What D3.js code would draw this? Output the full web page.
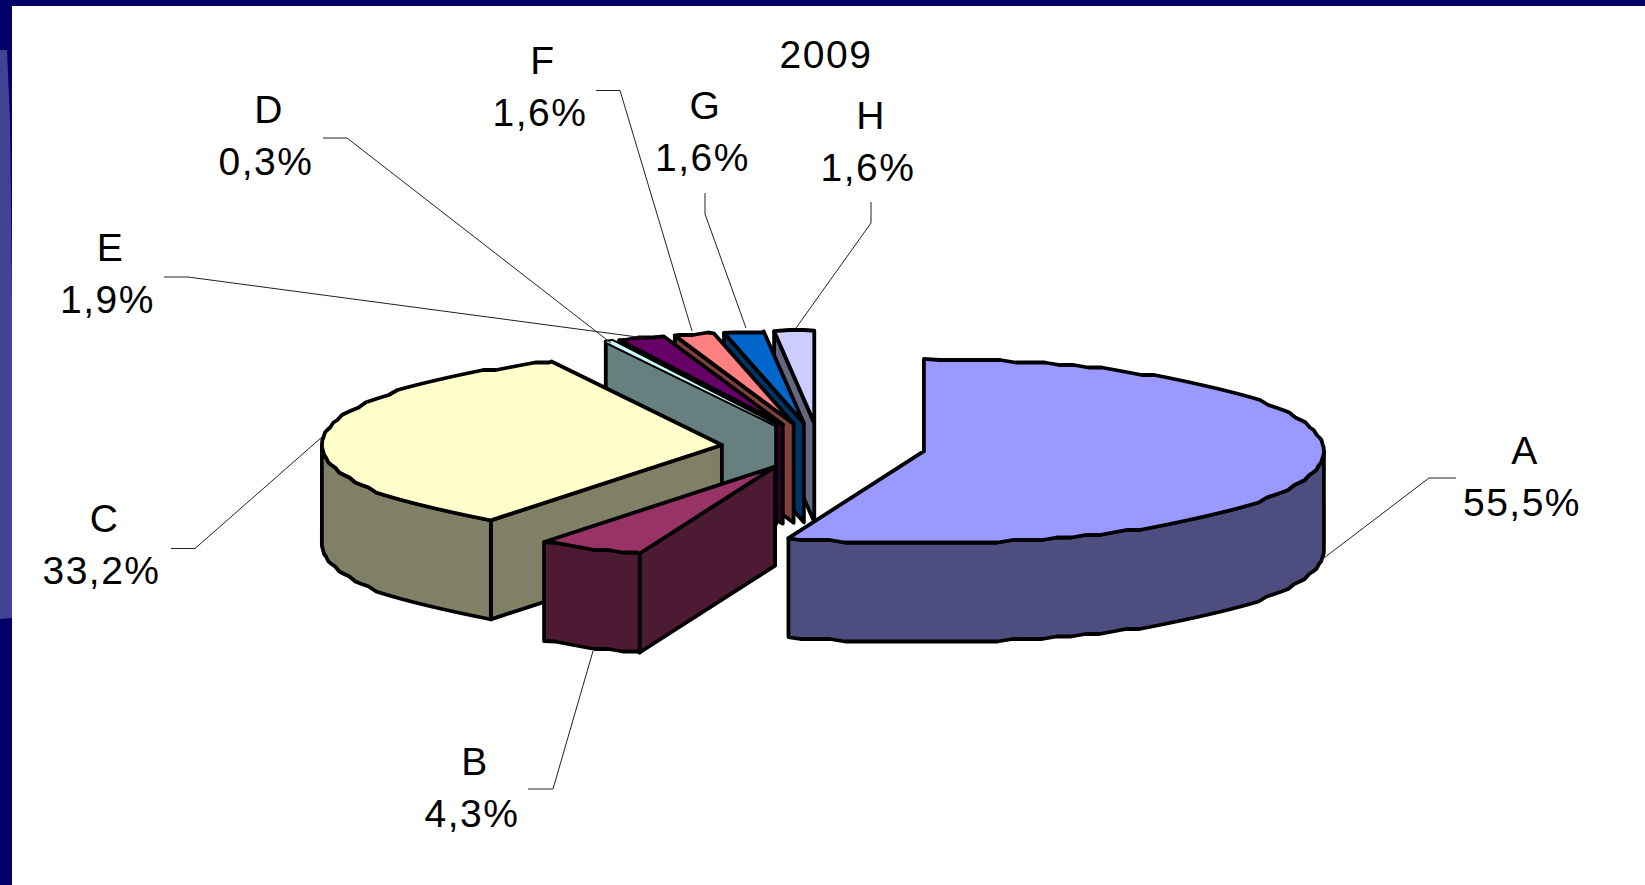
<!DOCTYPE html>
<html><head><meta charset="utf-8">
<script src="https://d3js.org/d3.v7.min.js"></script>
<style>html,body{margin:0;padding:0;background:#fff;overflow:hidden}svg{display:block}
text{font-family:"Liberation Sans",Arial,sans-serif;fill:#000}</style>
</head><body>
<script>
const categories=["A","B","C","D","E","F","G","H"];
const values=[55.5,4.3,33.2,0.3,1.9,1.6,1.6,1.6];
const valueLabels=["55,5%","4,3%","33,2%","0,3%","1,9%","1,6%","1,6%","1,6%"];
const topColors=["#9999FF","#993366","#FFFFCC","#CCFFFF","#660066","#FF8080","#0066CC","#CCCCFF"];
const wallColors=["#4D4D80","#4D1A33","#808066","#668080","#330033","#804040","#003366","#666680"];
const title="2009";
// layout only: explosion per slice, label anchors and leader elbows
const explodeBy=[0.265,0.24,0.245,0.26,0.26,0.26,0.26,0.26];
const labelLayout=[
 {x:1522,y:464,path:[[1320,561],[1429,478],[1456,478]]},
 {x:472,y:775,path:[[593,651],[553,789],[528,789]]},
 {x:101.5,y:532,path:[[322,437],[195,548.5],[171,548.5]]},
 {x:266,y:122.5,path:[[611,343],[347,138],[323,138]]},
 {x:107.5,y:260.5,path:[[645,338],[188,277],[164,277]]},
 {x:540,y:73.5,path:[[692,331],[620,90.5],[596,90.5]]},
 {x:702.5,y:119,path:[[746,328],[705,214],[705,193]]},
 {x:868,y:128.5,path:[[796,328],[871,223],[871,202]]}
];
const W=1645,H=885;
const cx=819.5,cy=447,rx=400,ry=92.3,depth=99;
const x=d3.scaleLinear().domain([-1,1]).range([cx-rx,cx+rx]);
const y=d3.scaleLinear().domain([-1,1]).range([cy-ry,cy+ry]);
const svg=d3.select("body").append("svg").attr("width",W).attr("height",H);
// slide frame
svg.append("rect").attr("width",W).attr("height",6).attr("fill","#000066");
svg.append("rect").attr("width",12).attr("height",H).attr("fill","#000066");
svg.append("path").attr("d","M0,50L7,50L10,120L12,300L12,618L0,619Z").attr("fill","#434396");

const arcs=d3.pie().sort(null).value(d=>d)(values);
const grid=2.5, stepA=2.2*Math.PI/180;
const snap=v=>Math.round(v/grid)*grid;
function pt(c,a){return [c.x+(x(Math.sin(a))-cx), c.y+(y(-Math.cos(a))-cy)];}
// arc sampled on a fixed angular lattice so top and wall rims coincide
function rim(c,a0,a1){
  const angs=[a0];
  for(let k=Math.floor(a0/stepA)+1;k*stepA<a1-1e-6;k++)angs.push(k*stepA);
  angs.push(a1);
  return angs.map((a,i)=>{
    const p=pt(c,a);
    return (i>0&&i<angs.length-1)?[p[0],snap(p[1])]:p;
  });
}
const line=d3.line();
function style(s,fill){return s.attr("fill",fill).attr("stroke","#000").attr("stroke-width",3.8).attr("stroke-linejoin","round");}

const g=svg.append("g");
[7,6,5,4,3,2,1,0].forEach(i=>{
  const d=arcs[i], mid=(d.startAngle+d.endAngle)/2, e=explodeBy[i];
  const c={x:x(e*Math.sin(mid)),y:y(-e*Math.cos(mid))};
  const a0=d.startAngle,a1=d.endAngle;
  const group=g.append("g").attr("class","slice");
  const top=rim(c,a0,a1);
  const ctr=[c.x,c.y];
  if(Math.sin(a0)<-1e-6){
    const s=top[0];
    style(group.append("path").attr("d",line([ctr,s,[s[0],s[1]+depth],[c.x,c.y+depth]])+"Z"),wallColors[i]);
  }
  const f0=Math.max(a0,Math.PI/2),f1=Math.min(a1,3*Math.PI/2);
  if(f1>f0){
    const upper=rim(c,f0,f1);
    const lower=upper.map(p=>[p[0],p[1]+depth]).reverse();
    style(group.append("path").attr("d",line(upper.concat(lower))+"Z"),wallColors[i]);
  }
  const tp=style(group.append("path").attr("d",line([ctr].concat(top))+"Z"),topColors[i]);
  if(values[i]<1)tp.style("paint-order","stroke");
});
const lab=svg.append("g");
categories.forEach((cat,i)=>{
  const L=labelLayout[i];
  lab.append("path").attr("d",line(L.path)).attr("fill","none").attr("stroke","#222").attr("stroke-width",1);
  const t=lab.append("text").attr("text-anchor","middle").attr("font-size",39).style("letter-spacing","1.5px");
  t.append("tspan").attr("x",L.x+3).attr("y",L.y).text(cat);
  t.append("tspan").attr("x",L.x).attr("y",L.y+52).text(valueLabels[i]);
});
svg.append("text").attr("x",826).attr("y",67.5).attr("text-anchor","middle").attr("font-size",39).style("letter-spacing","1.5px").text(title);
</script>
</body></html>
